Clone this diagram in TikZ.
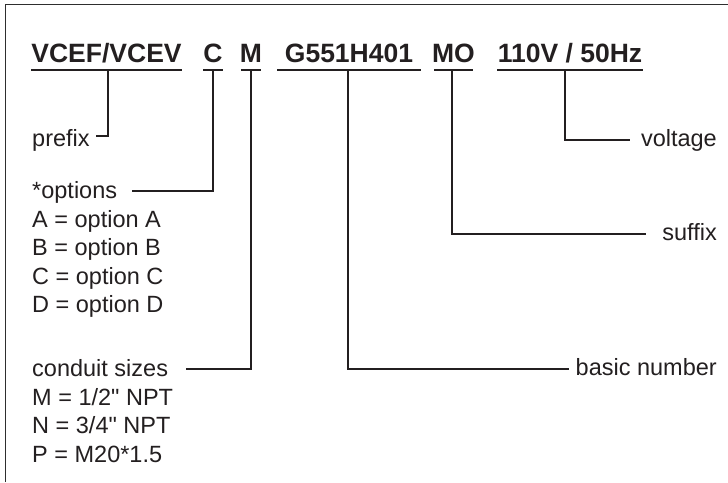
\documentclass[tikz,border=0pt]{standalone}
\usepackage{fontspec}
\setmainfont{Liberation Sans}
\definecolor{ink}{HTML}{231F20}
\definecolor{framec}{HTML}{2E2E2E}
\begin{document}
\begin{tikzpicture}[x=1pt,y=-1pt,
  hdr/.style={font=\fontsize{26.5}{30}\selectfont\bfseries, inner sep=0pt, anchor=base, text=ink},
  lbl/.style={font=\fontsize{23.5}{28}\selectfont, inner sep=0pt, anchor=base west, text=ink},
  rlbl/.style={font=\fontsize{23.5}{28}\selectfont, inner sep=0pt, anchor=base east, text=ink},
  uline/.style={draw=ink, line width=1.8pt},
  link/.style={draw=ink, line width=1.7pt, line join=miter}]
\useasboundingbox (0,0) rectangle (728,482);
\draw[draw=framec, line width=1.6pt] (5.5,482) -- (5.5,4.5) -- (728,4.5);

% header codes
\node[hdr] (h1) at (106.5,62) {VCEF/VCEV};
\node[hdr] (h2) at (213,62) {C};
\node[hdr] (h3) at (251,62) {M};
\node[hdr] (h4) at (349,62) {G551H401};
\node[hdr] (h5) at (453.5,62) {MO};
\node[hdr] (h6) at (570,62) {110V / 50Hz};

% underlines
\draw[uline] (31,70) -- (182,70);
\draw[uline] (203,70) -- (223,70);
\draw[uline] (241,70) -- (261,70);
\draw[uline] (277,70) -- (421,70);
\draw[uline] (434,70) -- (473,70);
\draw[uline] (497,70) -- (643,70);

% anchor points on underlines
\coordinate (u1) at (108,70);
\coordinate (u2) at (213,70);
\coordinate (u3) at (251,70);
\coordinate (u4) at (348,70);
\coordinate (u5) at (452,70);
\coordinate (u6) at (565,70);

% left labels
\node[lbl] (pre) at (32,146) {prefix};
\node[lbl] (opt) at (32,198) {*options};
\node[lbl] (oA) at (32,227) {A = option A};
\node[lbl] (oB) at (32,255.5) {B = option B};
\node[lbl] (oC) at (32,284) {C = option C};
\node[lbl] (oD) at (32,312.5) {D = option D};
\node[lbl] (con) at (32,376) {conduit sizes};
\node[lbl] (cM) at (32,405) {M = 1/2\textquotedbl{} NPT};
\node[lbl] (cN) at (32,433.5) {N = 3/4\textquotedbl{} NPT};
\node[lbl] (cP) at (32,462) {P = M20*1.5};

% right labels
\node[rlbl] (vol) at (717,146) {voltage};
\node[rlbl] (suf) at (717,240) {suffix};
\node[rlbl] (bas) at (717,375) {basic number};

% end points of connectors
\coordinate (e1) at (96,136);
\coordinate (e2) at (132,191);
\coordinate (e3) at (186,369);
\coordinate (e4) at (569,369);
\coordinate (e5) at (646,234);
\coordinate (e6) at (630,140);

% connectors
\draw[link] (u1) |- (e1);
\draw[link] (u2) |- (e2);
\draw[link] (u3) |- (e3);
\draw[link] (u4) |- (e4);
\draw[link] (u5) |- (e5);
\draw[link] (u6) |- (e6);
\end{tikzpicture}
\end{document}
